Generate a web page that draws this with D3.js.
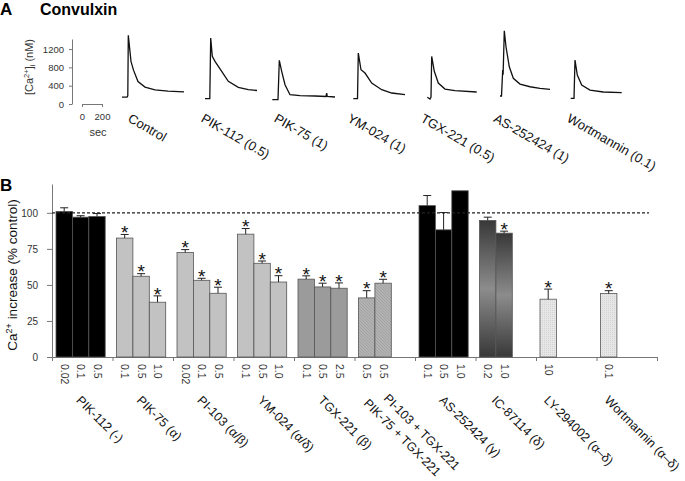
<!DOCTYPE html>
<html>
<head>
<meta charset="utf-8">
<script src="https://cdn.jsdelivr.net/npm/d3@7"></script>
<style>
  body { margin: 0; background: #fff; }
  svg { font-family: "Liberation Sans", Arial, sans-serif; }
  .ax path, .ax line { stroke: #777; }
  .ax text { fill: #333; }
</style>
</head>
<body>
<div id="chart"></div>
<script>
// ---- panel A : Ca2+ traces ----
var traceNames = ["Control", "PIK-112 (0.5)", "PIK-75 (1)", "YM-024 (1)", "TGX-221 (0.5)", "AS-252424 (1)", "Wortmannin (0.1)"];
// time in sec along the row (0 = scale bar origin), [Ca2+]i in nM
var traceTimes = [
  [400, 450, 458, 463, 490, 515, 560, 630, 730, 860, 1020],
  [1230, 1278, 1287, 1303, 1330, 1397, 1463, 1563, 1663, 1750],
  [1903, 1960, 1973, 1997, 2030, 2080, 2180, 2330, 2440, 2447, 2453, 2530],
  [2713, 2755, 2763, 2790, 2830, 2897, 2997, 3097, 3230],
  [3453, 3480, 3490, 3497, 3523, 3563, 3630, 3730, 3947],
  [4180, 4195, 4207, 4211, 4223, 4240, 4273, 4313, 4380, 4480, 4580, 4680],
  [4887, 4920, 4930, 4953, 4997, 5080, 5213, 5397]
];
var traceCa = [
  [150, 150, 180, 1500, 930, 740, 490, 370, 310, 280, 265],
  [116, 116, 1440, 1040, 930, 714, 495, 364, 312, 295],
  [94, 94, 954, 714, 421, 203, 185, 175, 164, 240, 164, 153],
  [116, 116, 1113, 748, 676, 458, 312, 240, 203],
  [146, 109, 153, 1040, 714, 458, 327, 290, 262],
  [175, 175, 742, 640, 1600, 1250, 814, 561, 436, 377, 343, 321],
  [124, 124, 960, 633, 415, 305, 262, 247]
];
var caTicks = [0, 400, 800, 1200];
var secTicks = [0, 200];

// ---- panel B : bars ----
var groupLabels = [["PIK-112 (-)"], ["PIK-75 (α)"], ["PI-103 (α/β)"], ["YM-024 (α/δ)"], ["TGX-221 (β)"],
  ["PI-103 + TGX-221", "PIK-75 + TGX-221"], ["AS-252424 (γ)"], ["IC-87114 (δ)"], ["LY-294002 (α–δ)"], ["Wortmannin (α–δ)"]];
var groupFill = ["black", "light", "light", "light", "mid", "hatch", "black", "grad", "dots", "dots"];
var barGroup = [0,0,0, 1,1,1, 2,2,2, 3,3,3, 4,4,4, 5,5, 6,6,6, 7,7, 8, 9];
var barDose = ["0.02","0.1","0.5", "0.1","0.5","1.0", "0.02","0.1","0.5", "0.1","0.5","1.0", "0.1","0.5","2.5",
  "0.5","0.5", "0.1","0.5","1.0", "0.2","1.0", "10", "0.1"];
var barValue = [101, 97, 97.5, 82.5, 56, 38, 72.5, 53.2, 44.2, 85.2, 65, 52, 54, 48.6, 47.7, 41, 51.2, 105, 88.2, 115.3, 94.7, 85.9, 40.1, 44];
var barError = [2.5, 1, 2, 2.5, 1.8, 4.4, 2, 1.4, 4.2, 3.9, 1.6, 4.4, 2.3, 2.6, 3.7, 5, 2.7, 7, 12, 0, 2.3, 1.4, 7, 2];
var barSignif = [0,0,0, 1,1,1, 1,1,1, 1,1,1, 1,1,1, 1,1, 0,0,0, 0,1, 1, 1];
var pctTicks = [0, 25, 50, 75, 100];

var W = 685, H = 481;
var svg = d3.select("#chart").append("svg").attr("width", W).attr("height", H);

var defs = svg.append("defs");
var grad = defs.append("linearGradient").attr("id", "grad").attr("x1", 0).attr("y1", 0).attr("x2", 0).attr("y2", 1);
grad.append("stop").attr("offset", "0%").attr("stop-color", "#383838");
grad.append("stop").attr("offset", "50%").attr("stop-color", "#8c8c8c");
grad.append("stop").attr("offset", "100%").attr("stop-color", "#383838");
var hatch = defs.append("pattern").attr("id", "hatch").attr("patternUnits", "userSpaceOnUse").attr("width", 3).attr("height", 3);
hatch.append("rect").attr("width", 3).attr("height", 3).attr("fill", "#b2b2b2");
hatch.append("path").attr("d", "M0,0 L3,3").attr("stroke", "#999").attr("stroke-width", 0.6);
var dots = defs.append("pattern").attr("id", "dots").attr("patternUnits", "userSpaceOnUse").attr("width", 2).attr("height", 2);
dots.append("rect").attr("width", 2).attr("height", 2).attr("fill", "#e6e6e6");
dots.append("rect").attr("width", 1).attr("height", 1).attr("fill", "#d4d4d4");

var fills = { black: "#000", light: "#c2c2c2", mid: "#9b9b9b", hatch: "url(#hatch)", grad: "url(#grad)", dots: "url(#dots)" };

// ---------- panel A ----------
svg.append("text").attr("x", 0).attr("y", 15).attr("font-size", 17).attr("font-weight", "bold").text("A");
svg.append("text").attr("x", 40).attr("y", 15).attr("font-size", 16).attr("font-weight", "bold").text("Convulxin");

var xT = d3.scaleLinear().domain([0, 200]).range([82, 102]);
var yCa = d3.scaleLinear().domain([0, 1420]).range([104, 39]);

svg.append("g").attr("class", "ax").attr("transform", "translate(72,0)")
  .call(d3.axisLeft(yCa).tickValues(caTicks).tickFormat(d3.format("d")).tickSize(3).tickSizeOuter(0).tickPadding(5))
  .call(g => g.selectAll("text").attr("font-size", 9.5).style("font-family", "inherit"));

svg.append("g").attr("class", "ax").attr("transform", "translate(0,104)")
  .call(d3.axisBottom(xT).tickValues(secTicks).tickSize(3).tickSizeOuter(0).tickPadding(6))
  .call(g => g.selectAll("text").attr("font-size", 9.5).style("font-family", "inherit"));

svg.append("text").attr("x", 98).attr("y", 136).attr("text-anchor", "middle").attr("font-size", 11).attr("fill", "#333").text("sec");

var caLab = svg.append("text").attr("transform", "translate(33,67) rotate(-90)")
  .attr("text-anchor", "middle").attr("font-size", 11).attr("fill", "#333");
caLab.append("tspan").text("[Ca");
caLab.append("tspan").attr("dy", -4).attr("font-size", 7.5).text("2+");
caLab.append("tspan").attr("dy", 4).text("]");
caLab.append("tspan").attr("dy", 2).attr("font-size", 7.5).text("i");
caLab.append("tspan").attr("dy", -2).text(" (nM)");

var line = d3.line().x(d => xT(d[0])).y(d => yCa(d[1]));
traceTimes.forEach(function(ts, i) {
  svg.append("path")
    .datum(ts.map((t, k) => [t, traceCa[i][k]]))
    .attr("d", line).attr("fill", "none").attr("stroke", "#111").attr("stroke-width", 1.3);
});

var xLab = d3.scalePoint().domain(traceNames).range([127, 566]);
svg.selectAll(".tlab").data(traceNames).enter().append("text")
  .attr("class", "tlab")
  .attr("transform", d => "translate(" + xLab(d) + ",121) rotate(30)")
  .attr("font-size", 13).attr("fill", "#111").text(d => d);

// ---------- panel B ----------
svg.append("text").attr("x", 0).attr("y", 191).attr("font-size", 17).attr("font-weight", "bold").text("B");

var xG = d3.scaleBand().domain(d3.range(groupLabels.length)).range([52, 657]);
var xIn = d3.scaleBand().domain([0, 1, 2]).range([4, 4 + 16.4 * 3]);
var xEdge = d3.scaleLinear().domain([0, groupLabels.length]).range([52, 657]);
var y = d3.scaleLinear().domain([0, 120]).range([357, 184]);

var bars = barValue.map(function(v, i) {
  var g = barGroup[i];
  var j = barGroup.slice(0, i).filter(k => k === g).length;
  return { g: g, j: j, v: v, e: barError[i], dose: barDose[i], sig: barSignif[i] };
});
bars.forEach(function(b) { b.x = xG(b.g) + xIn(b.j); b.cx = b.x + xIn.bandwidth() / 2; });

svg.append("g").attr("class", "ax").attr("transform", "translate(52,0)")
  .call(d3.axisLeft(y).tickValues(pctTicks).tickSize(5).tickSizeOuter(0).tickPadding(9))
  .call(g => g.selectAll("text").attr("font-size", 10).style("font-family", "inherit"));

svg.append("g").attr("class", "ax").attr("transform", "translate(0,357)")
  .call(d3.axisBottom(xEdge).tickValues(d3.range(groupLabels.length + 1)).tickFormat("").tickSize(4).tickSizeOuter(0));

var yl = svg.append("text").attr("transform", "translate(17,275) rotate(-90)")
  .attr("text-anchor", "middle").attr("font-size", 13.5).attr("fill", "#111");
yl.append("tspan").text("Ca");
yl.append("tspan").attr("dy", -5).attr("font-size", 9).text("2+");
yl.append("tspan").attr("dy", 5).text(" increase (% control)");

svg.selectAll(".bar").data(bars).enter().append("rect")
  .attr("class", "bar")
  .attr("x", d => d.x).attr("width", xIn.bandwidth())
  .attr("y", d => y(d.v)).attr("height", d => y(0) - y(d.v))
  .attr("fill", d => fills[groupFill[d.g]])
  .attr("stroke", "#555").attr("stroke-width", 0.8);

var eb = svg.selectAll(".err").data(bars.filter(d => d.e > 0)).enter().append("g").attr("class", "err");
eb.append("line").attr("x1", d => d.cx).attr("x2", d => d.cx)
  .attr("y1", d => y(d.v)).attr("y2", d => y(d.v + d.e)).attr("stroke", "#222");
eb.append("line").attr("x1", d => d.cx - 4).attr("x2", d => d.cx + 4)
  .attr("y1", d => y(d.v + d.e)).attr("y2", d => y(d.v + d.e)).attr("stroke", "#222");

svg.selectAll(".star").data(bars.filter(d => d.sig)).enter().append("text")
  .attr("class", "star").attr("x", d => d.cx).attr("y", d => y(d.v + d.e) + 4.7)
  .attr("text-anchor", "middle").attr("font-size", 19).attr("fill", "#111").text("*");

svg.append("line").attr("x1", 52).attr("x2", 649).attr("y1", y(100)).attr("y2", y(100))
  .attr("stroke", "#222").attr("stroke-width", 1.2).attr("stroke-dasharray", "3,2");

svg.selectAll(".dose").data(bars).enter().append("text")
  .attr("class", "dose")
  .attr("transform", d => "translate(" + (d.cx - 3.5) + ",364) rotate(90)")
  .attr("font-size", 10.5).attr("fill", "#333").text(d => d.dose);

groupLabels.forEach(function(lines, g) {
  var gb = bars.filter(b => b.g === g);
  var mid = (gb[0].x + gb[gb.length - 1].x + xIn.bandwidth()) / 2;
  lines.forEach(function(t, k) {
    var dx = lines.length > 1 ? (k === 0 ? 8 : -12) : -5;
    var dy = lines.length > 1 ? (k === 0 ? 399 : 404) : 401;
    svg.append("text")
      .attr("transform", "translate(" + (mid + dx) + "," + dy + ") rotate(45)")
      .attr("font-size", 12.5).attr("fill", "#111").text(t);
  });
});
</script>
</body>
</html>
